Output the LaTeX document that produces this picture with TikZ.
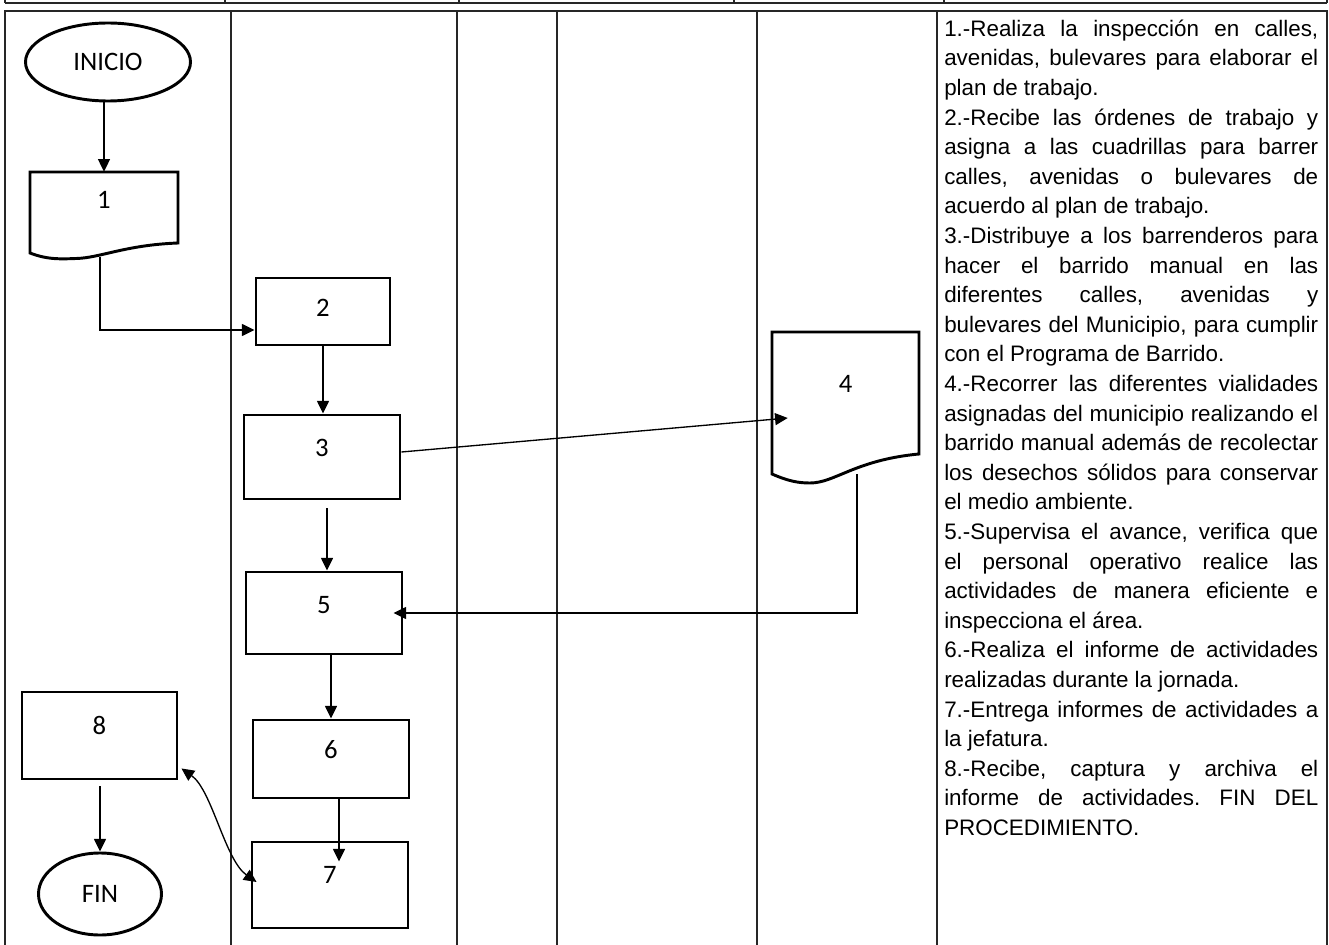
\documentclass[tikz,border=0pt]{standalone}
\usepackage{fontspec}
\setmainfont{Liberation Sans}
\newfontfamily\carl{Carlito}
\usetikzlibrary{arrows.meta,calc,shapes.geometric}
\newlength\tw \setlength\tw{280.5pt}
\newcommand\jline[1]{\noindent\hbox to\tw{#1}\par}
\newcommand\eline[1]{\noindent\hbox to\tw{#1\hfil}\par}
\begin{document}
\begin{tikzpicture}[x=0.75pt,y=-0.75pt,
  gridline/.style={line width=0.9pt, draw=black!85},
  flowbox/.style={draw, rectangle, line width=2.2pt, inner sep=0pt, font=\carl\fontsize{20}{22}\selectfont},
  docnode/.style={rectangle, inner sep=0pt, font=\carl\fontsize{20}{22}\selectfont},
  outline/.style={line width=2.2pt, line join=miter},
  term/.style={draw, ellipse, line width=2.2pt, inner sep=0pt, font=\carl\fontsize{20}{22}\selectfont},
  lift/.style={text height=13pt, text depth=#1},
  conn/.style={line width=1pt, -{Triangle[length=9.5pt,width=9pt]}},
  conntwo/.style={line width=1pt, {Triangle[length=9.5pt,width=9pt]}-{Triangle[length=9.5pt,width=9pt]}},
  desc/.style={anchor=north west, inner sep=0pt, text width=280.5pt,
     font=\fontsize{16.8}{22.2}\selectfont}
]
\useasboundingbox (0,0) rectangle (1329,945);
\fill[white] (0,0) rectangle (1329,945);
\begin{scope}
\clip (0,0) rectangle (1329,945);
% top strip
\draw[gridline, line width=1.4pt] (5,3) -- (1327,3);
\foreach \xx in {5,225,459,734,944,1327} \draw[gridline] (\xx,-3) -- (\xx,3);
% main table
\draw[gridline] (5,950) -- (5,11) -- (1327,11) -- (1327,950);
\foreach \xx in {231,457,557,757,937} \draw[gridline] (\xx,11) -- (\xx,950);
\end{scope}

% nodes
\node[term, minimum width=123.75pt, minimum height=58.5pt] (inicio) at (108,62) {INICIO};
\node[docnode, minimum width=111pt, minimum height=60.75pt, lift=18.8pt] (d1) at (104,212.5) {1};
\draw[outline] (30,253) -- (30,172) -- (178,172) -- (178,243)
   .. controls (125,245) and (100,258) .. (76,258.5)
   .. controls (62,259) and (48,260) .. (30,253) -- cycle;
\node[flowbox, minimum width=100.5pt, minimum height=50.25pt, lift=5.2pt] (b2) at (323,311.5) {2};
\node[flowbox, minimum width=117pt, minimum height=63pt, lift=13.5pt] (b3) at (322,457) {3};
\node[docnode, minimum width=110.25pt, minimum height=106.5pt, lift=28.5pt] (d4) at (845.5,403) {4};
\draw[outline] (772,474) -- (772,332) -- (919,332) -- (919,454)
   .. controls (855,460) and (835,483) .. (810,483)
   .. controls (798,483) and (788,481) .. (772,474) -- cycle;
\node[flowbox, minimum width=117pt, minimum height=61.5pt, lift=12pt] (b5) at (324,613) {5};
\node[flowbox, minimum width=117pt, minimum height=58.5pt, lift=13.5pt] (b6) at (331,759) {6};
\node[flowbox, minimum width=117pt, minimum height=64.5pt, lift=15pt] (b7) at (330,885) {7};
\node[flowbox, minimum width=116.25pt, minimum height=65.25pt, lift=14pt] (b8) at (99.5,735.5) {8};
\node[term, minimum width=92.25pt, minimum height=61.5pt] (fin) at (100,894) {FIN};

% connectors
\draw[conn] (d1.north |- inicio.south) -- (d1.north);
\draw[conn] ($(d1.south)+(-4,4)$) |- ($(b2.west)+(0,18.5)$);
\draw[conn] (b2.south) -- (b2.south |- b3.north);
\draw[conn] ($(b3.east)+(0,-5)$) -- ($(d4.west)+(16,15)$);
\draw[conn] ($(b3.south)+(5,8)$) -- ($(b5.north)+(3,0)$);
\draw[conn] ($(d4.south)+(11.5,0)$) |- ($(b5.east)+(-10,0)$);
\draw[conn] (b6.north |- b5.south) -- (b6.north);
\draw[conn] ($(b6.south)+(8,0)$) -- ($(b7.north)+(9,21)$);
\draw[conntwo] ($(b8.south east)+(3,-12)$) .. controls (212,790) and (225,860) .. ($(b7.west)+(6,-3)$);
\draw[conn] ($(b8.south)+(0.5,6)$) -- (fin.north);

% description text
\node[desc] (txt) at (944,16) {%
\setlength\parindent{0pt}\setlength\parskip{0pt}\frenchspacing\spaceskip=0pt\xspaceskip=0pt
\jline{\rule{0pt}{15pt}1.-Realiza la inspección en calles,}
\jline{avenidas, bulevares para elaborar el}
\eline{plan de trabajo.}
\jline{2.-Recibe las órdenes de trabajo y}
\jline{asigna a las cuadrillas para barrer}
\jline{calles, avenidas o bulevares de}
\eline{acuerdo al plan de trabajo.}
\jline{3.-Distribuye a los barrenderos para}
\jline{hacer el barrido manual en las}
\jline{diferentes calles, avenidas y}
\jline{bulevares del Municipio, para cumplir}
\eline{con el Programa de Barrido.}
\jline{4.-Recorrer las diferentes vialidades}
\jline{asignadas del municipio realizando el}
\jline{barrido manual además de recolectar}
\jline{los desechos sólidos para conservar}
\eline{el medio ambiente.}
\jline{5.-Supervisa el avance, verifica que}
\jline{el personal operativo realice las}
\jline{actividades de manera eficiente e}
\eline{inspecciona el área.}
\jline{6.-Realiza el informe de actividades}
\eline{realizadas durante la jornada.}
\jline{7.-Entrega informes de actividades a}
\eline{la jefatura.}
\jline{8.-Recibe, captura y archiva el}
\jline{informe de actividades. FIN DEL}
\eline{PROCEDIMIENTO.}};
\end{tikzpicture}
\end{document}
